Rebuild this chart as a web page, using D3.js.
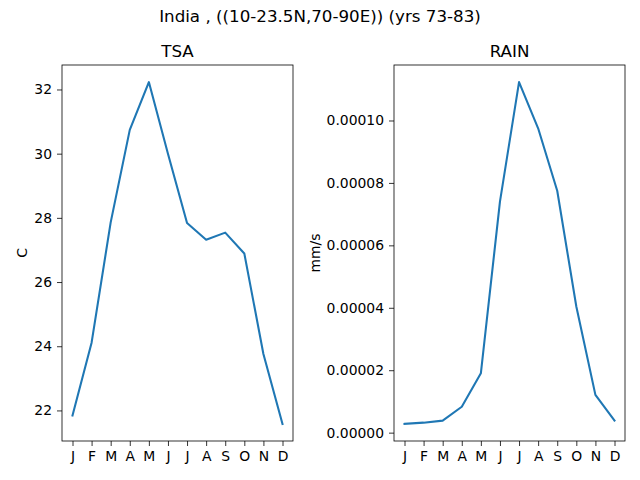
<!DOCTYPE html>
<html>
<head>
<meta charset="utf-8">
<script src="https://cdn.jsdelivr.net/npm/d3@7"></script>
<style>
  body { margin: 0; background: #fff; }
  svg { font-family: "DejaVu Sans", sans-serif; }
</style>
</head>
<body>
<svg id="chart" width="640" height="480"></svg>
<script>
// monthly climatology, India (10-23.5N,70-90E), yrs 73-83
var months = ["J", "F", "M", "A", "M", "J", "J", "A", "S", "O", "N", "D"];
var tsa = [21.84, 24.11, 27.86, 30.74, 32.23, 30.0, 27.84, 27.32, 27.54, 26.89, 23.76, 21.58];
var rain = [2.8e-6, 3.2e-6, 3.85e-6, 8.3e-6, 1.9e-5, 7.4e-5, 1.123e-4, 9.75e-5, 7.75e-5, 4.04e-5, 1.21e-5, 3.85e-6];
var tsaTicks = [22, 24, 26, 28, 30, 32];
var rainTicks = [0, 2e-5, 4e-5, 6e-5, 8e-5, 1e-4];

var svg = d3.select("#chart");

svg.append("text")
    .attr("x", 320)
    .attr("y", 22)
    .attr("text-anchor", "middle")
    .style("font-size", "16.7px")
    .text("India , ((10-23.5N,70-90E)) (yrs 73-83)");

function panel(opts) {
    var left = opts.left, top = 65, w = 231, h = 376;
    var vals = opts.values;

    var x = d3.scaleLinear().domain([-0.55, 11.55]).range([left, left + w]);
    var lo = d3.min(vals), hi = d3.max(vals), pad = (hi - lo) * 0.05;
    var y = d3.scaleLinear().domain([lo - pad, hi + pad]).range([top + h, top]);

    var g = svg.append("g");

    // x axis
    var xAxis = d3.axisBottom(x)
        .tickValues(d3.range(12))
        .tickFormat(function(i) { return months[i]; })
        .tickSizeInner(5).tickSizeOuter(0).tickPadding(5);
    g.append("g").attr("transform", "translate(0," + (top + h) + ")").call(xAxis);

    // y axis
    var yAxis = d3.axisLeft(y)
        .tickValues(opts.ticks)
        .tickFormat(opts.fmt)
        .tickSizeInner(5).tickSizeOuter(0).tickPadding(5);
    g.append("g").attr("transform", "translate(" + left + ",0)").call(yAxis);

    g.selectAll(".tick text").style("font-size", "13.9px").attr("fill", "#000")
        .style("font-family", "DejaVu Sans, sans-serif");
    g.selectAll(".tick line").attr("stroke", "#000").attr("stroke-width", 0.8);
    g.selectAll(".domain").remove();

    // line
    var line = d3.line()
        .x(function(d, i) { return x(i); })
        .y(function(d) { return y(d); });
    g.append("path")
        .datum(vals)
        .attr("d", line)
        .attr("fill", "none")
        .attr("stroke", "#1f77b4")
        .attr("stroke-width", 2.08)
        .attr("stroke-linejoin", "round")
        .attr("stroke-linecap", "square");

    // frame
    g.append("rect")
        .attr("x", left).attr("y", top)
        .attr("width", w).attr("height", h)
        .attr("fill", "none")
        .attr("stroke", "#000")
        .attr("stroke-width", 0.8);

    // title
    g.append("text")
        .attr("x", left + w / 2)
        .attr("y", top - 8)
        .attr("text-anchor", "middle")
        .style("font-size", "16.7px")
        .text(opts.title);

    // y label
    g.append("text")
        .attr("transform", "translate(" + opts.labelX + "," + (top + h / 2) + ") rotate(-90)")
        .attr("text-anchor", "middle")
        .style("font-size", "13.9px")
        .text(opts.ylabel);
}

panel({ left: 62, values: tsa, ticks: tsaTicks, fmt: d3.format("d"),
        title: "TSA", ylabel: "C", labelX: 27 });
panel({ left: 394, values: rain, ticks: rainTicks, fmt: d3.format(".5f"),
        title: "RAIN", ylabel: "mm/s", labelX: 320 });
</script>
</body>
</html>
